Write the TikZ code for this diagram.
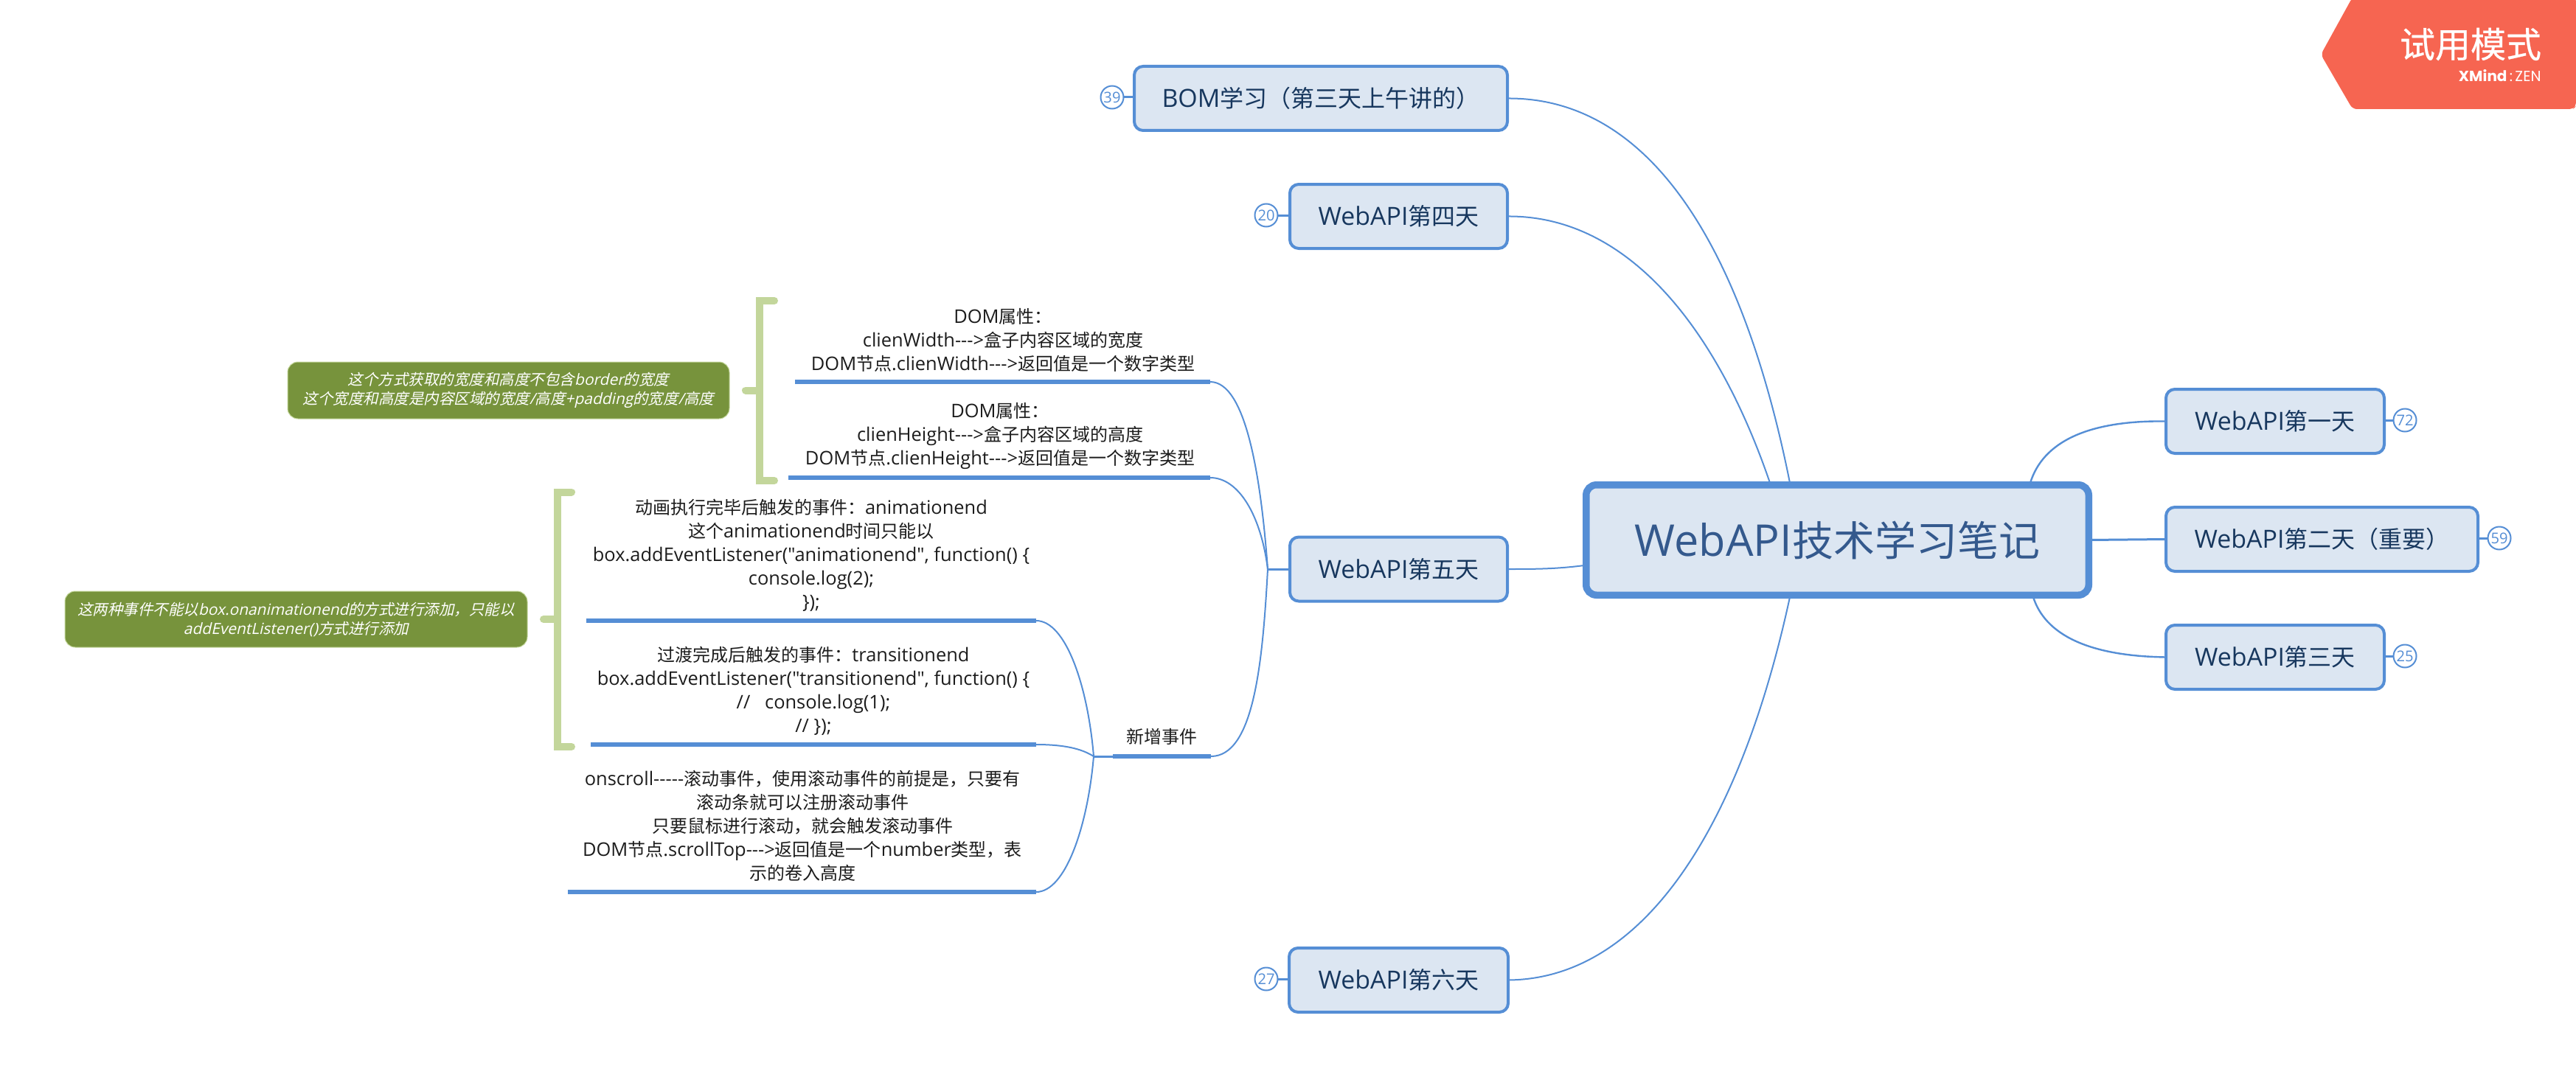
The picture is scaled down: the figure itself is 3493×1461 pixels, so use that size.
\documentclass[tikz,border=0pt]{standalone}
\usepackage{fontspec}
\usetikzlibrary{backgrounds}
\newfontfamily\cn{Noto Sans CJK SC}
\newfontfamily\cnit[FakeSlant=0.22]{Noto Sans CJK SC}
\newfontfamily\cnheavy[FakeBold=0.5]{Noto Sans CJK SC}
\newfontfamily\lat[Scale=1.06]{Open Sans}
\newfontfamily\latit[Scale=1.02,FakeSlant=0.22]{Open Sans}
\newfontfamily\pop{Poppins}
\newcommand{\curcjk}{\cn}
\newXeTeXintercharclass\cjkclass
\newcount\cjkloop
\newcommand{\markcjk}[2]{\cjkloop=#1\relax
  \loop\XeTeXcharclass\cjkloop=\cjkclass\relax
  \ifnum\cjkloop<#2\advance\cjkloop by 1\repeat}
\markcjk{"3000}{"303F}
\markcjk{"4E00}{"9FFF}
\markcjk{"FF00}{"FFEF}
\XeTeXinterchartoks 0 \cjkclass={\begingroup\curcjk}
\XeTeXinterchartoks 4095 \cjkclass={\begingroup\curcjk}
\XeTeXinterchartoks \cjkclass 0={\endgroup}
\XeTeXinterchartoks \cjkclass 4095={\endgroup}
\XeTeXinterchartokenstate=1
\definecolor{topicblue}{HTML}{558ED5}
\definecolor{topicfill}{HTML}{DCE6F2}
\definecolor{topictext}{HTML}{17375E}
\definecolor{maintext}{HTML}{34598D}
\definecolor{notegreen}{HTML}{77933C}
\definecolor{bracketgreen}{HTML}{C3D69B}
\definecolor{trialred}{HTML}{F66551}
\definecolor{bodytext}{HTML}{1C1C1C}
\tikzset{
  topicbox/.style={draw=topicblue,fill=topicfill,line width=2pt,rounded corners=6pt,inner sep=0pt,outer sep=0pt,
    minimum height=43.5pt,text=topictext,font=\lat\fontsize{16}{20}\selectfont},
  mainbox/.style={draw=topicblue,fill=topicfill,line width=4.75pt,rounded corners=7pt,inner sep=0pt,outer sep=0pt,
    minimum width=340.75pt,minimum height=74.75pt,text=maintext,font=\lat\fontsize{28}{34}\selectfont},
  countbadge/.style={circle,draw=topicblue,fill=white,line width=1pt,minimum size=15.5pt,inner sep=0pt,outer sep=0pt,
    text=topicblue,font=\lat\fontsize{9.5}{11}\selectfont},
  bodynote/.style={align=center,inner sep=0pt,text=bodytext,font=\lat\fontsize{12}{16}\selectfont},
  greennote/.style={draw=bracketgreen,line width=0.5pt,fill=notegreen,rounded corners=7pt,inner sep=0pt,outer sep=0pt,
    align=center,text=white,font=\renewcommand{\curcjk}{\cnit}\latit\fontsize{10.25}{13}\selectfont},
  wire/.style={draw=topicblue,line width=1pt},
  rule/.style={draw=topicblue,line width=3pt},
  greenbracket/.style={draw=bracketgreen,line width=5pt,line cap=round,line join=miter}
}
\begin{document}
\begin{tikzpicture}[x=0.5pt,y=-0.5pt]
\useasboundingbox (0,0) rectangle (3493,1461);
% topics
\node[mainbox] (central) at (2491.5,732.5) {WebAPI技术学习笔记};
\node[topicbox,minimum width=148pt] (d1) at (3085,571.5) {WebAPI第一天};
\node[topicbox,minimum width=211.5pt] (d2) at (3148.5,731.5) {WebAPI第二天（重要）};
\node[topicbox,minimum width=148pt] (d3) at (3085,891.5) {WebAPI第三天};
\node[topicbox,minimum width=253pt] (bom) at (1791,133.5) {BOM学习（第三天上午讲的）};
\node[topicbox,minimum width=147.5pt] (d4) at (1896.5,293.5) {WebAPI第四天};
\node[topicbox,minimum width=147.5pt] (d5) at (1896.5,772) {WebAPI第五天};
\node[topicbox,minimum width=148.5pt] (d6) at (1896.5,1329.5) {WebAPI第六天};
% count badges
\node[countbadge] (n72) at (3261,570) {72};
\node[countbadge] (n59) at (3389,730) {59};
\node[countbadge] (n25) at (3261,890) {25};
\node[countbadge] (n39) at (1508,132) {39};
\node[countbadge] (n20) at (1717,292) {20};
\node[countbadge] (n27) at (1717,1328) {27};
% texts of the fifth-day subtopics
\node[bodynote] (t1) at (1360,461) {DOM属性：\\clienWidth--->盒子内容区域的宽度\\DOM节点.clienWidth--->返回值是一个数字类型};
\node[bodynote] (t2) at (1356,591) {DOM属性：\\clienHeight--->盒子内容区域的高度\\DOM节点.clienHeight--->返回值是一个数字类型};
\node[bodynote] (t3) at (1100,753) {动画执行完毕后触发的事件：animationend\\这个animationend时间只能以\\box.addEventListener("animationend", function() \{\\console.log(2);\\\});};
\node[bodynote] (t4) at (1103,937) {过渡完成后触发的事件：transitionend\\box.addEventListener("transitionend", function() \{\\//\ \ \ console.log(1);\\// \});};
\node[bodynote] (t5) at (1088,1120) {onscroll-----滚动事件，使用滚动事件的前提是，只要有\\滚动条就可以注册滚动事件\\只要鼠标进行滚动，就会触发滚动事件\\DOM节点.scrollTop--->返回值是一个number类型，表\\示的卷入高度};
\node[bodynote] (t6) at (1575,999) {新增事件};
% notes
\node[greennote,minimum width=299.5pt,minimum height=38.5pt] (note1) at (689.5,529.5) {这个方式获取的宽度和高度不包含border的宽度\\这个宽度和高度是内容区域的宽度/高度+padding的宽度/高度};
\node[greennote,minimum width=313.5pt,minimum height=38pt] (note2) at (401.5,840) {这两种事件不能以box.onanimationend的方式进行添加，只能以\\addEventListener()方式进行添加};
% rule end points
\coordinate (r1a) at (1078,518); \coordinate (r1b) at (1641,518);
\coordinate (r2a) at (1069,648); \coordinate (r2b) at (1641,648);
\coordinate (r3a) at (795,842);  \coordinate (r3b) at (1405,842);
\coordinate (r4a) at (801,1010); \coordinate (r4b) at (1405,1010);
\coordinate (r5a) at (770,1210); \coordinate (r5b) at (1405,1210);
\coordinate (r6a) at (1509,1026); \coordinate (r6b) at (1642,1026);
\coordinate (j5) at (1719,772);
\coordinate (j6) at (1483,1026);
\coordinate (ctopA) at (2427,655);
\coordinate (ctopB) at (2400,655);
\coordinate (cbot) at (2427,810);
\coordinate (crA) at (2753,655);
\coordinate (crB) at (2757,810);
\coordinate (cleft) at (2148,767);
\foreach \a/\b in {r1a/r1b,r2a/r2b,r3a/r3b,r4a/r4b,r5a/r5b,r6a/r6b} \draw[rule] (\a) -- (\b);
\begin{pgfonlayer}{background}
  \draw[wire] (bom.east) .. controls (2230,132) and (2360,320) .. (ctopA);
  \draw[wire] (d4.east) .. controls (2210,292) and (2330,450) .. (ctopB);
  \draw[wire] (d6.east) .. controls (2230,1328) and (2360,1120) .. (cbot);
  \draw[wire,line width=1.2pt] (crA) .. controls (2770,600) and (2830,570) .. (d1.west);
  \draw[wire,line width=1.5pt] (central.east) -- (d2.west);
  \draw[wire,line width=1.2pt] (crB) .. controls (2773,860) and (2830,890) .. (d3.west);
  \draw[wire] (cleft) .. controls (2110,772) and (2080,772) .. (d5.east);
  \draw[wire,line width=1.5pt] (j5) -- (d5.west);
  \draw[wire] (r1b) .. controls (1690,518) and (1710,650) .. (j5);
  \draw[wire] (r2b) .. controls (1680,648) and (1710,700) .. (j5);
  \draw[wire] (r6b) .. controls (1700,1026) and (1712,900) .. (j5);
  \draw[wire,line width=1.5pt] (j6) -- (r6a);
  \draw[wire] (r3b) .. controls (1445,842) and (1475,930) .. (j6);
  \draw[wire] (r4b) .. controls (1450,1010) and (1470,1018) .. (j6);
  \draw[wire] (r5b) .. controls (1445,1210) and (1475,1120) .. (j6);
  \draw[wire,line width=1.5pt] (d1.east |- n72) -- (n72);
  \draw[wire,line width=1.5pt] (d2.east |- n59) -- (n59);
  \draw[wire,line width=1.5pt] (d3.east |- n25) -- (n25);
  \draw[wire,line width=1.5pt] (n39) -- (bom.west |- n39);
  \draw[wire,line width=1.5pt] (n20) -- (d4.west |- n20);
  \draw[wire,line width=1.5pt] (n27) -- (d6.west |- n27);
\end{pgfonlayer}
% brackets
\draw[greenbracket] (1050,408) -- (1029.5,408) -- (1029.5,652) -- (1050,652);
\draw[greenbracket] (1029.5,529.5) -- (1011,529.5);
\draw[greenbracket] (775,667.5) -- (756,667.5) -- (756,1013) -- (775,1013);
\draw[greenbracket] (756,840) -- (737,840);
% trial badge
\fill[trialred,rounded corners=3pt] (3190,-4) -- (3147,74) -- (3190,148) -- (3489,148) -- (3493,144) -- (3493,-4) -- cycle;
\node[inner sep=0pt,text=white,font=\cnheavy\fontsize{24}{28}\selectfont,anchor=center] (trial) at (3350,60) {\renewcommand{\curcjk}{\cnheavy}试用模式};
\node[inner sep=0pt,text=white,font=\pop\fontsize{10}{12}\selectfont,anchor=east] (brand) at (3446,103) {\textbf{XMind}\,:\,ZEN};
\end{tikzpicture}
\end{document}
